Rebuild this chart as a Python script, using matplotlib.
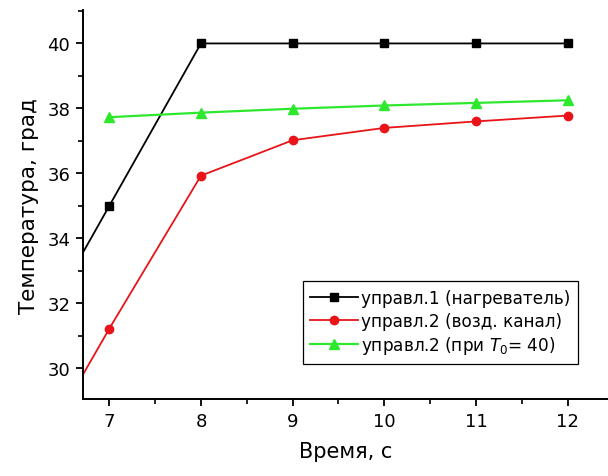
import matplotlib
matplotlib.use("Agg")
import matplotlib.pyplot as plt
from matplotlib.ticker import MultipleLocator

plt.rcParams['font.family'] = ['DejaVu Sans']
plt.rcParams['mathtext.fontset'] = 'dejavusans'

time_s = [6, 7, 8, 9, 10, 11, 12]
heater = [30.0, 35.0, 40.0, 40.0, 40.0, 40.0, 40.0]
air_channel = [26.3, 31.22, 35.93, 37.02, 37.4, 37.6, 37.78]
time_g = [7, 8, 9, 10, 11, 12]
t0_40 = [37.73, 37.87, 37.99, 38.09, 38.17, 38.25]

labels = ["управл.1 (нагреватель)", "управл.2 (возд. канал)", "управл.2 (при $T_0$= 40)"]
xticks = [7, 8, 9, 10, 11, 12]
yticks = [30, 32, 34, 36, 38, 40]

fig = plt.figure(figsize=(6.08, 4.77), dpi=100)
ax = fig.add_axes([0.136, 0.161, 0.864, 0.816])

ax.plot(time_s, heater, color='black', lw=1.3, marker='s', ms=5.5, label=labels[0])
ax.plot(time_s, air_channel, color='#e81418', lw=1.3, marker='o', ms=6, label=labels[1])
ax.plot(time_g, t0_40, color='#2ee82e', lw=1.6, marker='^', ms=7, label=labels[2])

ax.set_xlim(6.71, 12.44)
ax.set_ylim(29.05, 41.03)
ax.set_xticks(xticks)
ax.set_yticks(yticks)
ax.xaxis.set_minor_locator(MultipleLocator(0.5))
ax.yaxis.set_minor_locator(MultipleLocator(1))
ax.tick_params(which='major', direction='out', length=5, width=1.3, labelsize=13, pad=4)
ax.tick_params(which='minor', direction='out', length=3.5, width=1.2)
for s in ['top', 'right']:
    ax.spines[s].set_visible(False)
for s in ['left', 'bottom']:
    ax.spines[s].set_linewidth(1.4)

ax.set_xlabel("Время, с", fontsize=15, labelpad=8)
ax.set_ylabel("Температура, град", fontsize=15.5, labelpad=6)

leg = ax.legend(loc='upper left', bbox_to_anchor=(0.419, 0.303), borderaxespad=0,
                fontsize=12.2, frameon=True, fancybox=False, edgecolor='black', framealpha=1,
                handlelength=2.8, handletextpad=0.2, borderpad=0.45, labelspacing=0.28)
leg.get_frame().set_linewidth(0.9)

fig.savefig("out.png", dpi=100)
